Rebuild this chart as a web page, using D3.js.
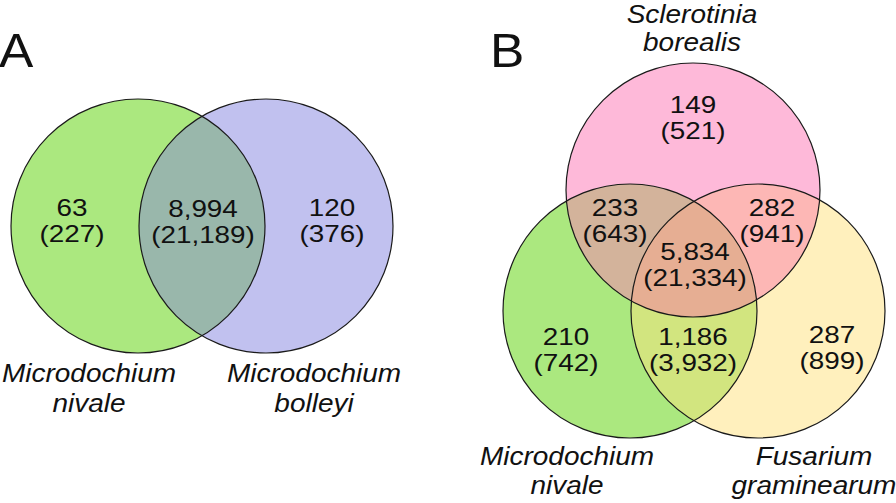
<!DOCTYPE html>
<html>
<head>
<meta charset="utf-8">
<script src="https://cdn.jsdelivr.net/npm/d3@7"></script>
<style>
  html, body { margin: 0; padding: 0; background: #fff; }
  svg { display: block; }
  text { font-family: "Liberation Sans", Arimo, Arial, sans-serif; fill: #111; }
</style>
</head>
<body>
<svg id="chart" width="896" height="503"></svg>
<script>
// ---------------- DATA ----------------
const panelLetters = ["A", "B"];

// Panel A: two-set Venn
const setsA = ["Microdochium nivale", "Microdochium bolleyi"];
const setColorsA = ["#abe87f", "#c1c1ef"];
const regionsA = ["nivale only", "shared", "bolleyi only"];
const clustersA = [63, 8994, 120];
const genesA = [227, 21189, 376];

// Panel B: three-set Venn
const setsB = ["Sclerotinia borealis", "Microdochium nivale", "Fusarium graminearum"];
const setColorsB = ["#feb9d9", "#abe87f", "#fff0bd"];
const regionsB = ["S only", "S∩M", "S∩F", "S∩M∩F", "M only", "M∩F", "F only"];
const clustersB = [149, 233, 282, 5834, 210, 1186, 287];
const genesB = [521, 643, 941, 21334, 742, 3932, 899];
const overlapColorsB = { SM: "#d3b39b", SF: "#fdb7b5", MF: "#d2e57f", SMF: "#e6ae93" };
const overlapColorA = "#99b7ab";

// ---------------- LAYOUT ----------------
const svg = d3.select("#chart");
const fmt = d3.format(",");
const x = d3.scaleLinear().domain([0, 1]).range([0, 896]);
const y = d3.scaleLinear().domain([0, 1]).range([0, 503]);
const R = 127;
const SX_NUM = 1.2;  // horizontal text stretch seen in the reference
const SX_LAB = 1.12;

const circA = [{ cx: 138 / 896, cy: 226 / 503 }, { cx: 266 / 896, cy: 226 / 503 }];
const circB = [{ cx: 693 / 896, cy: 190 / 503 }, { cx: 630 / 896, cy: 311 / 503 }, { cx: 758 / 896, cy: 311 / 503 }];

const regionPosA = [[72, 216], [203, 217], [332, 216]].map(p => [p[0] / 896, p[1] / 503]);
const regionPosB = [[693, 113], [615, 216], [772, 216], [695, 260], [566, 345], [693, 345], [832, 343]].map(p => [p[0] / 896, p[1] / 503]);
const setLabelPosA = [[89, 382], [314, 382]].map(p => [p[0] / 896, p[1] / 503]);
const setLabelPosB = [[692, 23], [567, 465], [814, 465]].map(p => [p[0] / 896, p[1] / 503]);

const defs = svg.append("defs");
function addClip(id, c) {
  defs.append("clipPath").attr("id", id)
    .append("circle").attr("cx", x(c.cx)).attr("cy", y(c.cy)).attr("r", R);
}
circA.forEach((c, i) => addClip("cA" + i, c));
circB.forEach((c, i) => addClip("cB" + i, c));

function fillCircle(g, c, color, clip) {
  g.append("circle").attr("cx", x(c.cx)).attr("cy", y(c.cy)).attr("r", R)
    .attr("fill", color).attr("clip-path", clip ? `url(#${clip})` : null);
}

// ---- Panel A fills ----
const gA = svg.append("g");
circA.forEach((c, i) => fillCircle(gA, c, setColorsA[i]));
fillCircle(gA, circA[1], overlapColorA, "cA0");
gA.selectAll("circle.outline").data(circA).join("circle").attr("class", "outline")
  .attr("cx", d => x(d.cx)).attr("cy", d => y(d.cy)).attr("r", R)
  .attr("fill", "none").attr("stroke", "#1a1a1a").attr("stroke-width", 1.2);

// ---- Panel B fills ----
const gB = svg.append("g");
circB.forEach((c, i) => fillCircle(gB, c, setColorsB[i]));
fillCircle(gB, circB[1], overlapColorsB.SM, "cB0");
fillCircle(gB, circB[2], overlapColorsB.SF, "cB0");
fillCircle(gB, circB[2], overlapColorsB.MF, "cB1");
const triple = gB.append("g").attr("clip-path", "url(#cB0)");
fillCircle(triple, circB[2], overlapColorsB.SMF, "cB1");
gB.selectAll("circle.outline").data(circB).join("circle").attr("class", "outline")
  .attr("cx", d => x(d.cx)).attr("cy", d => y(d.cy)).attr("r", R)
  .attr("fill", "none").attr("stroke", "#1a1a1a").attr("stroke-width", 1.2);

// ---- text helper: one text element, two tspans ----
function twoLine(g, px, py, l1, l2, size, italic, gap, sx) {
  const t = g.append("text")
    .attr("transform", `translate(${px},${py}) scale(${sx},1)`)
    .attr("text-anchor", "middle").attr("font-size", size)
    .attr("font-style", italic ? "italic" : "normal");
  t.append("tspan").attr("x", 0).attr("y", 0).text(l1);
  t.append("tspan").attr("x", 0).attr("y", gap).text(l2);
}

regionsA.forEach((r, i) => twoLine(svg, x(regionPosA[i][0]), y(regionPosA[i][1]),
  fmt(clustersA[i]), `(${fmt(genesA[i])})`, 23.2, false, 26, SX_NUM));
regionsB.forEach((r, i) => twoLine(svg, x(regionPosB[i][0]), y(regionPosB[i][1]),
  fmt(clustersB[i]), `(${fmt(genesB[i])})`, 23.2, false, 26, SX_NUM));

setsA.forEach((s, i) => {
  const parts = s.split(" ");
  twoLine(svg, x(setLabelPosA[i][0]), y(setLabelPosA[i][1]), parts[0], parts[1], 25, true, 30, SX_LAB);
});
setsB.forEach((s, i) => {
  const parts = s.split(" ");
  twoLine(svg, x(setLabelPosB[i][0]), y(setLabelPosB[i][1]), parts[0], parts[1], 25, true, i === 0 ? 28 : 29, SX_LAB);
});

const letterPos = [[-1, 67], [490, 67]];
panelLetters.forEach((L, i) => {
  svg.append("text").attr("transform", `translate(${letterPos[i][0]},${letterPos[i][1]}) scale(1.05,1)`)
    .attr("font-size", 49).text(L);
});
</script>
</body>
</html>
